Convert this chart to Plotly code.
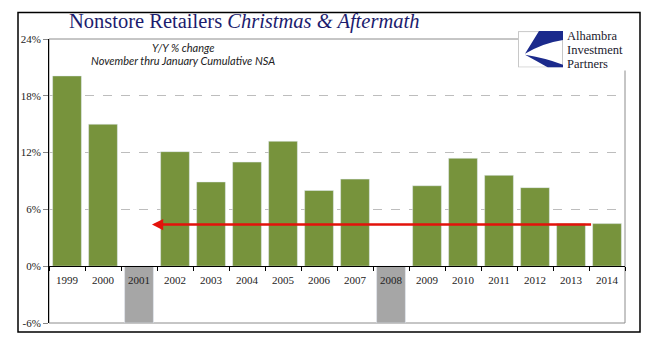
import base64
import plotly.graph_objects as go

years = ["1999", "2000", "2001", "2002", "2003", "2004", "2005", "2006",
         "2007", "2008", "2009", "2010", "2011", "2012", "2013", "2014"]
growth = [20.1, 15.0, None, 12.1, 8.9, 11.0, 13.2, 8.0,
          9.2, None, 8.5, 11.4, 9.6, 8.3, 4.5, 4.5]
recession_years = ["2001", "2008"]
recession_vals = [-6, -6]
arrow_level = 4.4
y_ticks = [-6, 0, 6, 12, 18, 24]
y_ticktext = ["-6%", "0%", "6%", "12%", "18%", "24%"]

W, H = 647, 341
L, R, T, B = 49, 22, 39, 14
PW, PH = W - L - R, H - T - B


def px(x):
    return (x - L) / PW


def py(y):
    return 1 - (y - T) / PH


fig = go.Figure()
fig.add_trace(go.Bar(x=years, y=growth, marker_color="#77933C", width=0.8,
                     showlegend=False))
fig.add_trace(go.Bar(x=recession_years, y=recession_vals, marker_color="#A6A6A6",
                     width=0.8, showlegend=False))

serif = "Liberation Serif"
fig.update_layout(
    width=W, height=H, margin=dict(l=L, r=R, t=T, b=B),
    paper_bgcolor="white", plot_bgcolor="white", barmode="overlay",
    xaxis=dict(type="category", range=[-0.5, 15.5], anchor="free", position=0.2,
               showline=True, linecolor="black", linewidth=1,
               ticks="outside", tickson="boundaries", ticklen=4, tickcolor="black",
               ticklabelstandoff=4,
               showgrid=False, tickfont=dict(family=serif, size=11, color="#222")),
    yaxis=dict(range=[-6, 24], tickvals=y_ticks, ticktext=y_ticktext,
               showline=True, linecolor="black", linewidth=1,
               ticks="outside", ticklen=5, tickcolor="#888",
               showgrid=True, gridcolor="#BDBDBD", griddash="dash", gridwidth=1,
               zeroline=False, tickfont=dict(family=serif, size=11, color="#222")),
)

# plot area border and outer frame
fig.add_shape(type="rect", xref="paper", yref="paper", x0=0, x1=1, y0=0, y1=1,
              line=dict(color="#8C8C8C", width=1), layer="between")
fig.add_shape(type="rect", xref="paper", yref="paper", x0=px(18), x1=px(640),
              y0=py(336), y1=py(12), line=dict(color="black", width=1.5))
# white backdrop for logo text
fig.add_shape(type="rect", xref="paper", yref="paper", x0=px(563), x1=px(632),
              y0=py(71), y1=py(28), fillcolor="white", line=dict(width=0),
              layer="above")

# arrow
fig.add_annotation(x=2.36, y=arrow_level, ax=14.6, ay=arrow_level, xref="x", yref="y",
                   axref="x", ayref="y", showarrow=True, text="",
                   arrowcolor="#E3120B", arrowwidth=2.5, arrowhead=2, arrowsize=0.9)

# title and subtitles
fig.add_annotation(xref="paper", yref="paper", x=px(67), y=py(21), xanchor="left",
                   yanchor="middle", showarrow=False,
                   text="Nonstore Retailers <i>Christmas &amp; Aftermath</i>",
                   font=dict(family=serif, size=20.5, color="#1C1C6E"))
fig.add_annotation(xref="paper", yref="paper", x=px(183), y=py(48), xanchor="center",
                   yanchor="middle", showarrow=False, text="<i>Y/Y % change</i>",
                   font=dict(family="Lato", size=11, color="#222"))
fig.add_annotation(xref="paper", yref="paper", x=px(183), y=py(61), xanchor="center",
                   yanchor="middle", showarrow=False,
                   text="<i>November thru January Cumulative NSA</i>",
                   font=dict(family="Lato", size=11, color="#222"))

# logo
svg = ("<svg xmlns='http://www.w3.org/2000/svg' viewBox='0 0 45 37' "
       "preserveAspectRatio='none'>"
       "<rect x='0.5' y='0.5' width='44' height='36' fill='white' stroke='#C8C8C8'/>"
       "<path d='M21 0 L45 0 L45 9 Q25 12 7 23 Z' fill='#1B2A8C'/>"
       "<path d='M7 24 Q26 27 45 34 L45 37 L30 37 Q18 30 7 24 Z' fill='#1B2A8C'/>"
       "</svg>")
src = "data:image/svg+xml;base64," + base64.b64encode(svg.encode()).decode()
fig.add_layout_image(source=src, xref="paper", yref="paper", x=px(518), y=py(31),
                     sizex=45 / PW, sizey=37 / PH, xanchor="left", yanchor="top",
                     sizing="stretch", layer="above")
for txt, yy in [("Alhambra", 36), ("Investment", 50), ("Partners", 64)]:
    fig.add_annotation(xref="paper", yref="paper", x=px(565), y=py(yy), xanchor="left",
                       yanchor="middle", showarrow=False, text=txt,
                       font=dict(family=serif, size=12.5, color="#1A1A2E"))

fig.write_html("out.html")
